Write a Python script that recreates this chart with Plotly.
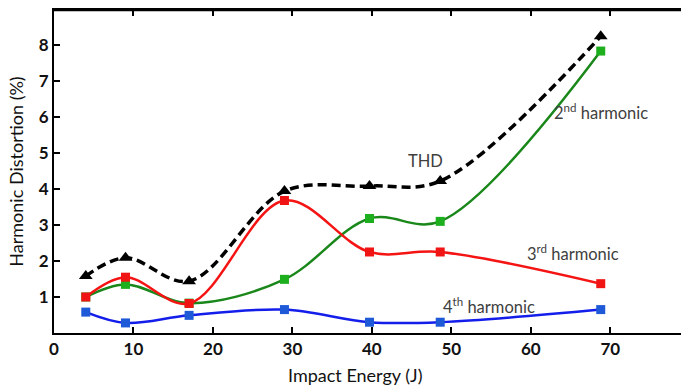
import plotly.graph_objects as go

energy = [4.0, 9.0, 17.0, 29.0, 39.7, 48.6, 68.8]
thd = [1.58, 2.09, 1.44, 3.94, 4.08, 4.22, 8.24]
h2 = [1.0, 1.35, 0.83, 1.49, 3.18, 3.10, 7.83]
h3 = [1.0, 1.55, 0.82, 3.68, 2.25, 2.25, 1.37]
h4 = [0.58, 0.28, 0.49, 0.65, 0.30, 0.30, 0.65]

x_ticks = [0, 10, 20, 30, 40, 50, 60, 70]
y_ticks = [1, 2, 3, 4, 5, 6, 7, 8]

fig = go.Figure()

def add_series(y, line_color, marker_color, symbol, size, width, dash="solid"):
    fig.add_trace(go.Scatter(
        x=energy, y=y, mode="lines+markers",
        line=dict(color=line_color, width=width, shape="spline", smoothing=1.0, dash=dash),
        marker=dict(color=marker_color, symbol=symbol, size=size, line=dict(width=0)),
        showlegend=False, cliponaxis=False))

add_series(h4, "rgb(20,30,235)", "rgb(30,90,215)", "square", 9, 2.5)
add_series(h2, "rgb(25,135,25)", "rgb(30,175,30)", "square", 9, 2.5)
add_series(h3, "rgb(245,20,20)", "rgb(240,20,20)", "square", 9, 2.5)
add_series(thd, "black", "black", "triangle-up", 12, 3.5, dash="9px,5px")

ann_font = dict(family="Lato, Open Sans, sans-serif", size=16.5, color="#404040")
annots = [
    ("THD", 46.8, 4.79),
    ("2<sup>nd</sup> harmonic", 68.8, 6.15),
    ("3<sup>rd</sup> harmonic", 65.3, 2.21),
    ("4<sup>th</sup> harmonic", 54.8, 0.76),
]
for text, ax, ay in annots:
    fig.add_annotation(text=text, x=ax, y=ay, xref="x", yref="y",
                       showarrow=False, font=ann_font, xanchor="center", yanchor="middle")

# x-axis title (placed as in the reference, slightly left of the domain centre)
fig.add_annotation(text="Impact Energy (J)", x=37.9, y=-0.13, xref="x", yref="paper",
                   showarrow=False, xanchor="center", yanchor="middle",
                   font=dict(family="Lato, Open Sans, sans-serif", size=18, color="#111"))

# top frame line of the plot box
fig.add_shape(type="line", xref="paper", yref="paper", x0=0, x1=1, y0=1, y1=1,
              line=dict(color="black", width=2.5), layer="above")

fig.update_layout(
    width=681, height=387,
    margin=dict(l=54, r=0, t=10, b=54),
    plot_bgcolor="white", paper_bgcolor="white",
    font=dict(family="Lato, Open Sans, sans-serif", color="#111"),
)

fig.update_xaxes(
    range=[0, 78.9], tickvals=x_ticks, ticktext=[str(v) for v in x_ticks],
    showgrid=False, zeroline=False, showline=True, linecolor="black", linewidth=2,
    ticks="inside", ticklen=6, tickwidth=2, tickcolor="black", mirror="ticks",
    tickfont=dict(size=17, weight="bold", color="#111"),
)
fig.update_yaxes(
    range=[0, 8.97], tickvals=y_ticks, ticktext=[str(v) for v in y_ticks],
    showgrid=False, zeroline=False, showline=True, linecolor="black", linewidth=2,
    ticks="inside", ticklen=6, tickwidth=2, tickcolor="black",
    tickfont=dict(size=17, weight="bold", color="#111"),
    title=dict(text="Harmonic Distortion (%)", font=dict(size=18, color="#111"), standoff=10),
)

fig.write_html("out.html", config={"displayModeBar": False},
               post_script="document.body.style.margin='0';")
